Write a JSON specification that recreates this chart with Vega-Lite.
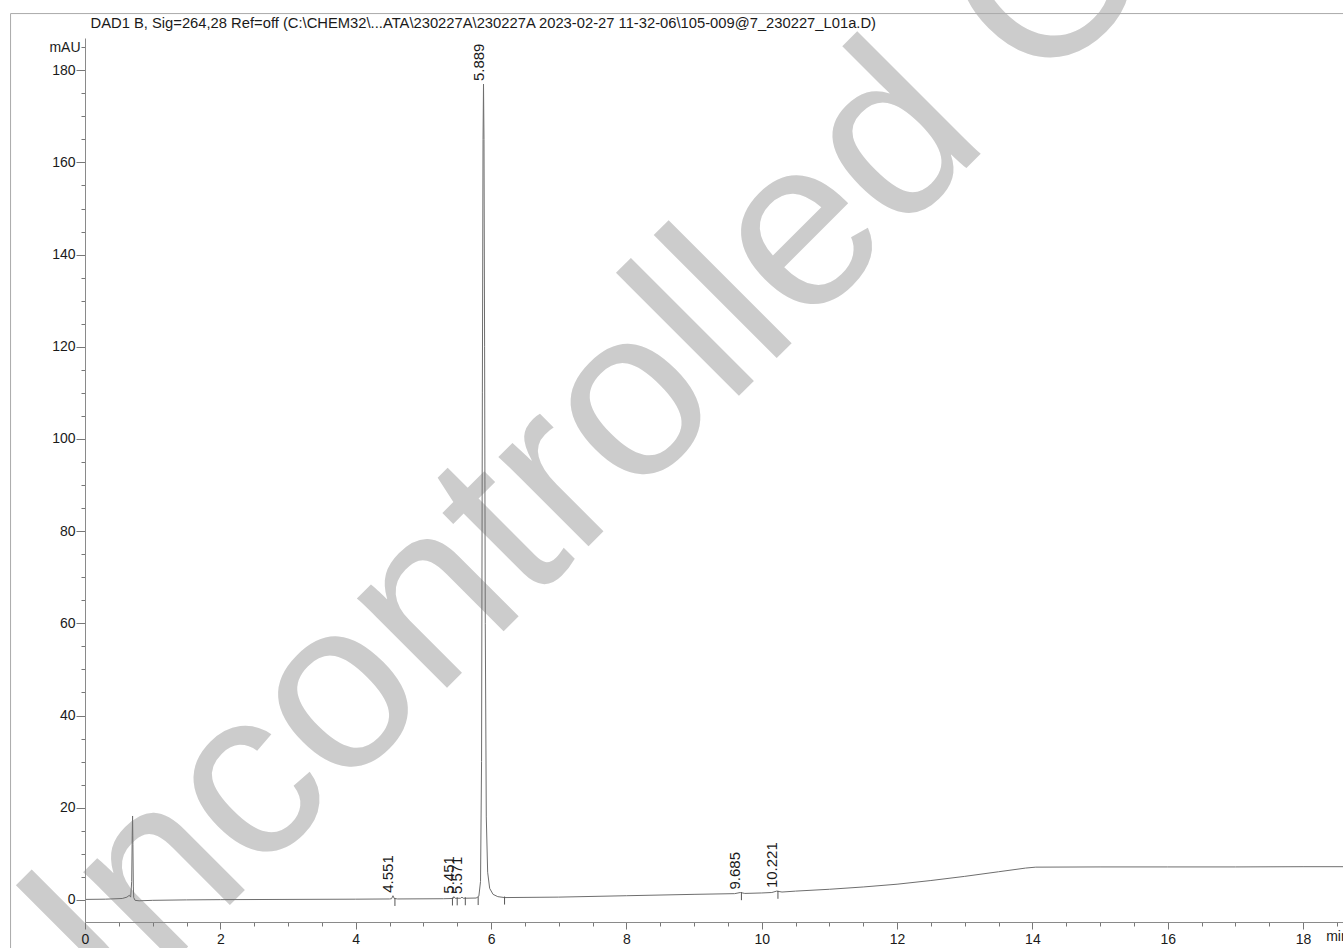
{
  "$schema": "https://vega.github.io/schema/vega-lite/v6.json",
  "autosize": "none",
  "width": 1258,
  "height": 884,
  "padding": {"left": 85, "top": 38, "right": 0, "bottom": 26},
  "background": "white",
  "config": {"view": {"stroke": null}},
  "datasets": {
    "signal": [
      {"t": 0, "v": 0.1}, {"t": 0.3, "v": 0.15}, {"t": 0.55, "v": 0.3}, {"t": 0.62, "v": 0.6},
      {"t": 0.655, "v": 1.0}, {"t": 0.675, "v": 0.6}, {"t": 0.69, "v": 4}, {"t": 0.698, "v": 14},
      {"t": 0.703, "v": 18.2}, {"t": 0.708, "v": 12}, {"t": 0.714, "v": 3}, {"t": 0.72, "v": 0.5},
      {"t": 0.74, "v": -0.1}, {"t": 0.8, "v": -0.2}, {"t": 1.0, "v": -0.1}, {"t": 1.5, "v": 0},
      {"t": 2, "v": 0.05}, {"t": 3, "v": 0.1}, {"t": 4, "v": 0.15}, {"t": 4.5, "v": 0.2},
      {"t": 4.53, "v": 0.25}, {"t": 4.551, "v": 0.9}, {"t": 4.57, "v": 0.3}, {"t": 4.62, "v": 0.2},
      {"t": 5.3, "v": 0.25}, {"t": 5.44, "v": 0.3}, {"t": 5.451, "v": 0.7}, {"t": 5.47, "v": 0.35},
      {"t": 5.55, "v": 0.35}, {"t": 5.571, "v": 0.6}, {"t": 5.59, "v": 0.35}, {"t": 5.78, "v": 0.4},
      {"t": 5.82, "v": 0.8}, {"t": 5.845, "v": 4}, {"t": 5.86, "v": 30}, {"t": 5.872, "v": 110},
      {"t": 5.882, "v": 165}, {"t": 5.889, "v": 177}, {"t": 5.896, "v": 165}, {"t": 5.905, "v": 120},
      {"t": 5.915, "v": 60}, {"t": 5.93, "v": 18}, {"t": 5.95, "v": 6}, {"t": 5.98, "v": 2.5},
      {"t": 6.03, "v": 1.2}, {"t": 6.1, "v": 0.7}, {"t": 6.2, "v": 0.5}, {"t": 7, "v": 0.6},
      {"t": 8, "v": 0.9}, {"t": 9, "v": 1.2}, {"t": 9.6, "v": 1.35}, {"t": 9.685, "v": 1.6},
      {"t": 9.75, "v": 1.4}, {"t": 10, "v": 1.5}, {"t": 10.15, "v": 1.6}, {"t": 10.221, "v": 1.9},
      {"t": 10.3, "v": 1.7}, {"t": 10.5, "v": 1.9}, {"t": 11, "v": 2.3}, {"t": 11.5, "v": 2.8},
      {"t": 12, "v": 3.4}, {"t": 12.5, "v": 4.2}, {"t": 13, "v": 5.1}, {"t": 13.5, "v": 6.1},
      {"t": 13.9, "v": 6.9}, {"t": 14.05, "v": 7.1}, {"t": 15, "v": 7.15}, {"t": 16, "v": 7.15},
      {"t": 17, "v": 7.15}, {"t": 18, "v": 7.2}, {"t": 18.59, "v": 7.2}
    ],
    "peaks": [
      {"t": 4.551, "v": 0.9, "label": "4.551"},
      {"t": 5.451, "v": 0.7, "label": "5.451"},
      {"t": 5.571, "v": 0.6, "label": "5.571"},
      {"t": 5.889, "v": 177, "label": "5.889"},
      {"t": 9.685, "v": 1.6, "label": "9.685"},
      {"t": 10.221, "v": 1.9, "label": "10.221"}
    ],
    "markers": [
      {"t": 4.58, "v": 0.2}, {"t": 5.43, "v": 0.3}, {"t": 5.5, "v": 0.33}, {"t": 5.62, "v": 0.35},
      {"t": 5.81, "v": 0.4}, {"t": 6.2, "v": 0.5}, {"t": 9.7, "v": 1.45}, {"t": 10.24, "v": 1.75}
    ],
    "watermark": [
      {"t": -0.68, "v": -42.5, "label": "Uncontrolled Copy"}
    ],
    "frame": [
      {"left": -1.1, "right": 20, "top": 192.3, "bottom": -20}
    ]
  },
  "encoding": {
    "x": {
      "field": "t", "type": "quantitative",
      "scale": {"domain": [0, 18.59], "nice": false, "zero": false},
      "axis": {
        "title": null,
        "grid": false,
        "zindex": 1,
        "values": [0,0.5,1,1.5,2,2.5,3,3.5,4,4.5,5,5.5,6,6.5,7,7.5,8,8.5,9,9.5,10,10.5,11,11.5,12,12.5,13,13.5,14,14.5,15,15.5,16,16.5,17,17.5,18,18.5],
        "labelExpr": "datum.value === 18.5 ? 'min' : (datum.value % 2 === 0 ? format(datum.value, 'd') : '')",
        "tickSize": {"condition": {"test": "datum.value % 2 === 0", "value": 7}, "value": 4},
        "labelFont": "Liberation Sans",
        "labelFontSize": 14,
        "labelColor": "#1a1a1a",
        "labelPadding": 3,
        "labelOverlap": false,
        "labelFlush": false,
        "labelBound": false,
        "domainColor": "#8a8a8a",
        "tickColor": "#777777"
      }
    },
    "y": {
      "field": "v", "type": "quantitative",
      "scale": {"domain": [-4.8, 187], "nice": false, "zero": false},
      "axis": {
        "title": "DAD1 B, Sig=264,28 Ref=off (C:\\CHEM32\\...ATA\\230227A\\230227A 2023-02-27 11-32-06\\105-009@7_230227_L01a.D)",
        "titleAngle": 0,
        "titleX": 5,
        "titleY": -11,
        "titleAlign": "left",
        "titleBaseline": "alphabetic",
        "titleFont": "Liberation Sans",
        "titleFontSize": 14.75,
        "titleFontWeight": "normal",
        "titleColor": "#1a1a1a",
        "grid": false,
        "zindex": 1,
        "values": [0,5,10,15,20,25,30,35,40,45,50,55,60,65,70,75,80,85,90,95,100,105,110,115,120,125,130,135,140,145,150,155,160,165,170,175,180,185],
        "labelExpr": "datum.value === 185 ? 'mAU' : (datum.value % 20 === 0 ? format(datum.value, 'd') : '')",
        "tickSize": {"condition": {"test": "datum.value % 20 === 0", "value": 9}, "value": 4},
        "labelFont": "Liberation Sans",
        "labelFontSize": 14,
        "labelColor": "#1a1a1a",
        "labelPadding": 1,
        "labelOverlap": false,
        "labelBound": false,
        "domainColor": "#8a8a8a",
        "tickColor": "#777777"
      }
    }
  },
  "layer": [
    {
      "data": {"name": "watermark"},
      "mark": {"type": "text", "angle": -45, "align": "left", "baseline": "alphabetic", "font": "Liberation Sans", "fontSize": 240, "color": "#cccccc"},
      "encoding": {"text": {"field": "label"}}
    },
    {
      "data": {"name": "frame"},
      "mark": {"type": "rule", "color": "#aaaaaa", "strokeWidth": 1},
      "encoding": {
        "x": {"field": "left", "type": "quantitative"},
        "x2": {"field": "right"},
        "y": {"field": "top", "type": "quantitative"}
      }
    },
    {
      "data": {"name": "frame"},
      "mark": {"type": "rule", "color": "#aaaaaa", "strokeWidth": 1},
      "encoding": {
        "x": {"field": "left", "type": "quantitative"},
        "y": {"field": "top", "type": "quantitative"},
        "y2": {"field": "bottom"}
      }
    },
    {
      "data": {"name": "signal"},
      "mark": {"type": "line", "color": "#6e6e6e", "strokeWidth": 1, "interpolate": "linear"},
      "encoding": {}
    },
    {
      "data": {"name": "markers"},
      "mark": {"type": "rule", "color": "#555555", "strokeWidth": 1, "yOffset": -1, "y2Offset": 7},
      "encoding": {"y2": {"field": "v"}}
    },
    {
      "data": {"name": "peaks"},
      "mark": {"type": "text", "angle": 270, "align": "left", "baseline": "alphabetic", "dx": 3, "font": "Liberation Sans", "fontSize": 15, "color": "#1a1a1a"},
      "encoding": {"text": {"field": "label"}}
    }
  ]
}
